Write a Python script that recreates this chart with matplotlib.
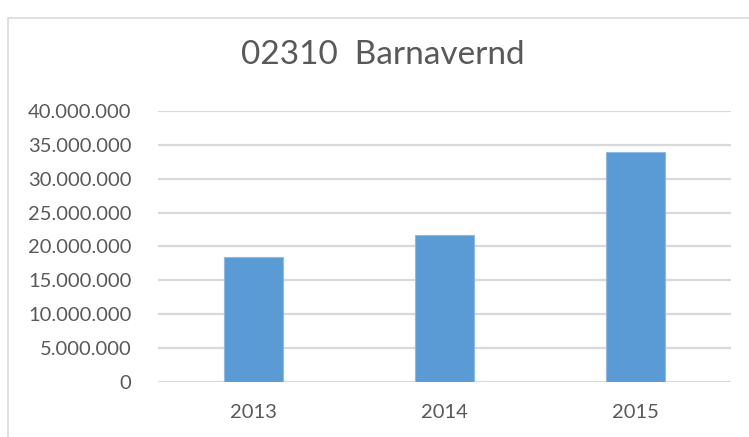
import matplotlib.pyplot as plt
from matplotlib.patches import Rectangle
from matplotlib.ticker import FuncFormatter

years = ['2013', '2014', '2015']
amounts = [18500000, 21700000, 33900000]
title = '02310  Barnavernd'

plt.rcParams['font.family'] = ['Lato', 'DejaVu Sans']
text_col = '#595959'
grid_col = '#D9D9D9'

fig = plt.figure(figsize=(7.49, 4.37), dpi=100)
# chart area border (runs off the right and bottom edges)
fig.patches.append(Rectangle((8 / 749, -0.1), 1.2, 1 - 18 / 437 + 0.1,
                             transform=fig.transFigure, fill=False,
                             edgecolor=grid_col, linewidth=1.2))

ax = fig.add_axes([158 / 749, 55.3 / 437, 573 / 749, 270.7 / 437])
x = range(len(years))
ax.bar(x, amounts, width=0.31, color='#5B9BD5', edgecolor='#8DB9E3',
       linewidth=0.8, zorder=3)

ax.set_xlim(-0.5, 2.5)
ax.set_ylim(0, 40000000)
ax.set_yticks(range(0, 40000001, 5000000))
ax.yaxis.set_major_formatter(FuncFormatter(lambda v, p: f'{int(v):,}'.replace(',', '.')))
ax.set_xticks(list(x))
ax.set_xticklabels(years)
ax.grid(axis='y', color=grid_col, linewidth=1.6, zorder=0)
for s in ax.spines.values():
    s.set_visible(False)
ax.tick_params(axis='both', length=0, labelsize=14.5, labelcolor=text_col)
ax.tick_params(axis='y', pad=19)
ax.tick_params(axis='x', pad=16)

fig.text(383 / 749, 1 - 55 / 437, title, ha='center', va='center',
         fontsize=24, color=text_col)

fig.savefig('out.png', dpi=100)
